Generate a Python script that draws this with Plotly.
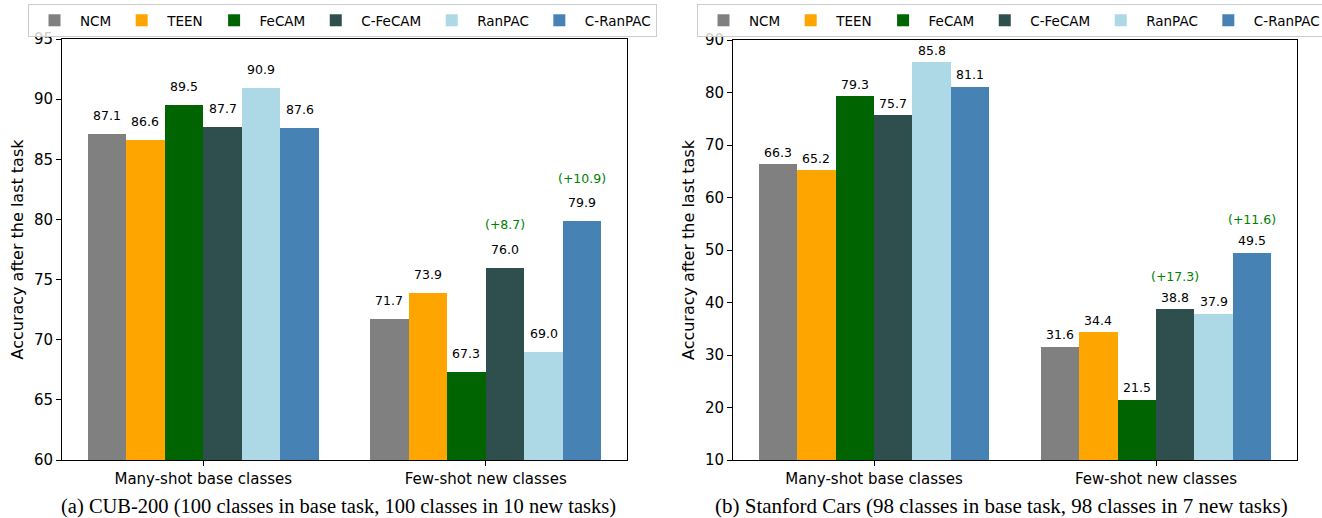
import plotly.graph_objects as go

# ---------------- data ----------------
methods = ["NCM", "TEEN", "FeCAM", "C-FeCAM", "RanPAC", "C-RanPAC"]
colors = ["#808080", "#FFA500", "#006400", "#2F4F4F", "#ADD8E6", "#4682B4"]
groups = ["Many-shot base classes", "Few-shot new classes"]

cub_many = [87.1, 86.6, 89.5, 87.7, 90.9, 87.6]
cub_few = [71.7, 73.9, 67.3, 76.0, 69.0, 79.9]
cub_gain_methods = ["C-FeCAM", "C-RanPAC"]
cub_gains = ["(+8.7)", "(+10.9)"]

cars_many = [66.3, 65.2, 79.3, 75.7, 85.8, 81.1]
cars_few = [31.6, 34.4, 21.5, 38.8, 37.9, 49.5]
cars_gain_methods = ["C-FeCAM", "C-RanPAC"]
cars_gains = ["(+17.3)", "(+11.6)"]

caption_a = "(a) CUB-200 (100 classes in base task, 100 classes in 10 new tasks)"
caption_b = "(b) Stanford Cars (98 classes in base task, 98 classes in 7 new tasks)"

# ---------------- layout constants ----------------
W, H = 1322, 518
BW = 0.1365
FONT = "DejaVu Sans"

def px_x(p):
    return p / W

def px_y(p):
    return 1 - p / H

fig = go.Figure()
annotations = []

panels = [
    dict(many=cub_many, few=cub_few, gm=cub_gain_methods, gt=cub_gains,
         xa="x", ya="y", legend="legend", gain_off=3.0),
    dict(many=cars_many, few=cars_few, gm=cars_gain_methods, gt=cars_gains,
         xa="x2", ya="y2", legend="legend2", gain_off=5.0),
]

for p in panels:
    for i, m in enumerate(methods):
        xs = [g + (i - 2.5) * BW for g in range(len(groups))]
        ys = [p["many"][i], p["few"][i]]
        fig.add_trace(go.Bar(
            x=xs, y=ys, width=BW, name=m, marker_color=colors[i],
            marker_line_width=0, xaxis=p["xa"], yaxis=p["ya"],
            legend=p["legend"], showlegend=True, hoverinfo="skip",
        ))
        for xv, yv in zip(xs, ys):
            annotations.append(dict(
                x=xv, y=yv + 1, xref=p["xa"], yref=p["ya"],
                text=f"{yv:.1f}", showarrow=False, yanchor="bottom",
                font=dict(family=FONT, size=12.5, color="black"),
                borderpad=0, yshift=-2,
            ))
    for m, t in zip(p["gm"], p["gt"]):
        i = methods.index(m)
        xv = 1 + (i - 2.5) * BW
        yv = p["few"][i]
        annotations.append(dict(
            x=xv, y=yv + p["gain_off"], xref=p["xa"], yref=p["ya"],
            text=t, showarrow=False, yanchor="bottom",
            font=dict(family=FONT, size=12.5, color="green"),
            borderpad=0, yshift=-2,
        ))

annotations.append(dict(
    x=px_x(338), y=px_y(506), xref="paper", yref="paper", text=caption_a,
    showarrow=False, xanchor="center", yanchor="middle", borderpad=0,
    font=dict(family="Liberation Serif", size=20.5, color="black"),
))
annotations.append(dict(
    x=px_x(1001), y=px_y(506), xref="paper", yref="paper", text=caption_b,
    showarrow=False, xanchor="center", yanchor="middle", borderpad=0,
    font=dict(family="Liberation Serif", size=21, color="black"),
))

axis_common = dict(
    showline=True, linecolor="black", linewidth=1, mirror=True,
    ticks="outside", ticklen=5, tickcolor="black", showgrid=False,
    zeroline=False, tickfont=dict(family=FONT, size=15, color="black"),
    automargin=False,
)

xaxis_common = dict(axis_common, range=[-0.5, 1.5], tickmode="array",
                    tickvals=[0, 1], ticktext=groups)

legend_common = dict(
    orientation="h", xanchor="left", yanchor="top",
    bgcolor="rgba(255,255,255,0.8)", bordercolor="#cccccc", borderwidth=1,
    font=dict(family=FONT, size=13.5, color="black"),
    itemwidth=41, tracegroupgap=0,
)

fig.update_layout(
    width=W, height=H,
    margin=dict(l=0, r=0, t=0, b=0, autoexpand=False),
    plot_bgcolor="white", paper_bgcolor="white",
    barmode="overlay", bargap=0,
    font=dict(family=FONT, color="black"),
    xaxis=dict(xaxis_common, domain=[px_x(62), px_x(627)], anchor="y"),
    yaxis=dict(axis_common, range=[60, 95], dtick=5,
               domain=[px_y(460), px_y(39)], anchor="x",
               title=dict(text="Accuracy after the last task",
                          font=dict(family=FONT, size=16), standoff=6)),
    xaxis2=dict(xaxis_common, domain=[px_x(733), px_x(1297)], anchor="y2"),
    yaxis2=dict(axis_common, range=[10, 90], dtick=10,
                domain=[px_y(460), px_y(40)], anchor="x2",
                title=dict(text="Accuracy after the last task",
                           font=dict(family=FONT, size=16), standoff=6)),
    legend=dict(legend_common, x=px_x(28), y=px_y(4)),
    legend2=dict(legend_common, x=px_x(697), y=px_y(4)),
    annotations=annotations,
)

fig.write_html(
    "out.html",
    config={"displayModeBar": False},
    post_script="document.body.style.margin='0';document.body.style.overflow='hidden';",
)
